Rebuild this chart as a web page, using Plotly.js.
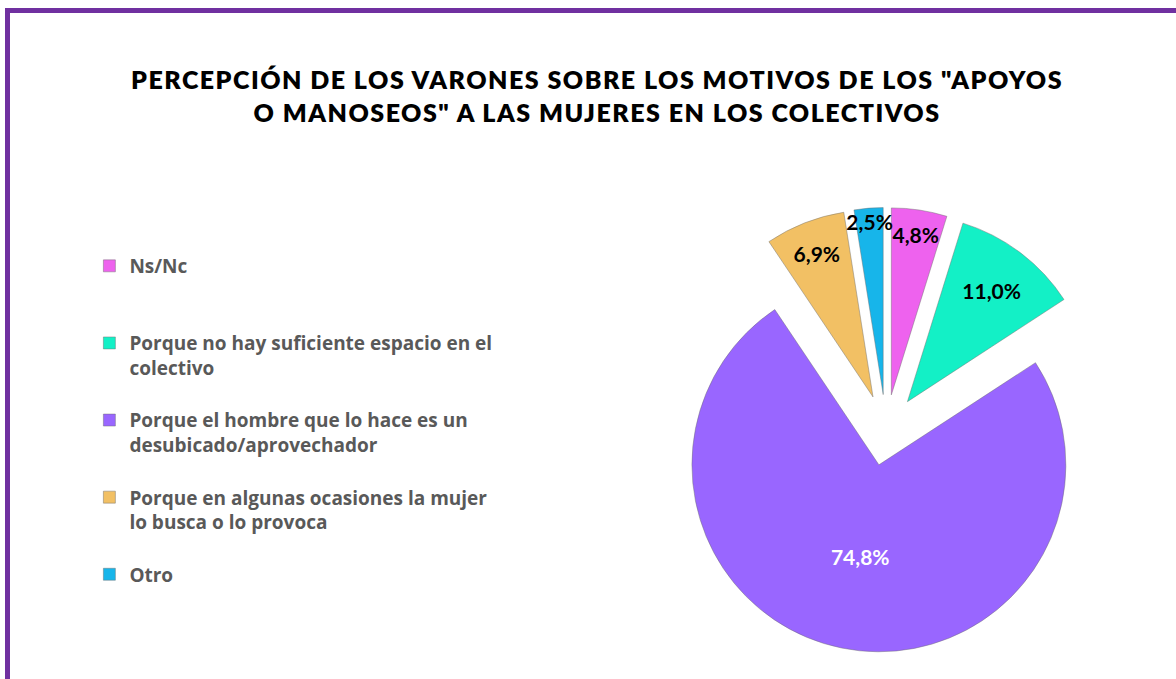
<!DOCTYPE html>
<html>
<head>
<meta charset="utf-8">
<script src="https://cdn.plot.ly/plotly-3.0.1.min.js"></script>
<style>
html,body{margin:0;padding:0;background:#fff;}
#chart{width:1176px;height:679px;}
.gtitle{letter-spacing:1.5px;}
</style>
</head>
<body>
<div id="chart"></div>
<script>
// ---- data ----
var categories = [
  "Ns/Nc<br> <br> ",
  "Porque no hay suficiente espacio en el<br>colectivo<br> ",
  "Porque el hombre que lo hace es un<br>desubicado/aprovechador<br> ",
  "Porque en algunas ocasiones la mujer<br>lo busca o lo provoca<br> ",
  "Otro"
];
var values = [4.8, 11.0, 74.8, 6.9, 2.5];
var sliceColors = ["#EE62EE", "#13F0C6", "#9966FF", "#F2C064", "#17B5EA"];
var labelColors = ["#000000", "#000000", "#FFFFFF", "#000000", "#000000"];
var chartTitle = 'PERCEPCIÓN DE LOS VARONES SOBRE LOS MOTIVOS DE LOS "APOYOS<br>O MANOSEOS" A LAS MUJERES EN LOS COLECTIVOS';

var pctText = values.map(function (v) { return v.toFixed(1).replace('.', ',') + '%'; });

var trace = {
  type: 'pie',
  labels: categories,
  values: values,
  text: pctText,
  textinfo: 'text',
  textposition: 'inside',
  insidetextorientation: 'horizontal',
  sort: false,
  direction: 'clockwise',
  rotation: 0,
  pull: [0.19, 0.19, 0.19, 0.19, 0.19],
  marker: { colors: sliceColors, line: { color: 'rgba(110,110,110,0.45)', width: 1 } },
  textfont: { family: 'Lato, sans-serif', size: 21, color: labelColors, weight: 700 },
  hoverinfo: 'label+percent',
  domain: { x: [0.5642, 0.9426], y: [0.0390, 0.6944] }
};

var layout = {
  width: 1176,
  height: 679,
  margin: { l: 0, r: 0, t: 0, b: 0 },
  paper_bgcolor: '#ffffff',
  plot_bgcolor: '#ffffff',
  uniformtext: { mode: 'show', minsize: 21 },
  title: {
    text: chartTitle,
    x: 0.5077,
    xanchor: 'center',
    xref: 'paper',
    y: 1 - 89 / 679,
    yref: 'container',
    yanchor: 'top',
    font: { family: 'Lato, sans-serif', size: 25, color: '#000000', weight: 800 }
  },
  showlegend: true,
  legend: {
    x: 0.076,
    xanchor: 'left',
    y: 1 - 247 / 679,
    yanchor: 'top',
    valign: 'top',
    traceorder: 'normal',
    font: { family: '"Open Sans", sans-serif', size: 19, color: '#595959', weight: 700 },
    bgcolor: 'rgba(0,0,0,0)'
  },
  shapes: [{
    type: 'rect', xref: 'paper', yref: 'paper',
    x0: 7.5 / 1176, x1: 1.1, y0: -0.1, y1: 1 - 10.5 / 679,
    line: { color: '#7030A0', width: 5 },
    fillcolor: 'rgba(0,0,0,0)'
  }]
};

Plotly.newPlot('chart', [trace], layout, { displayModeBar: false, staticPlot: true });
</script>
</body>
</html>
